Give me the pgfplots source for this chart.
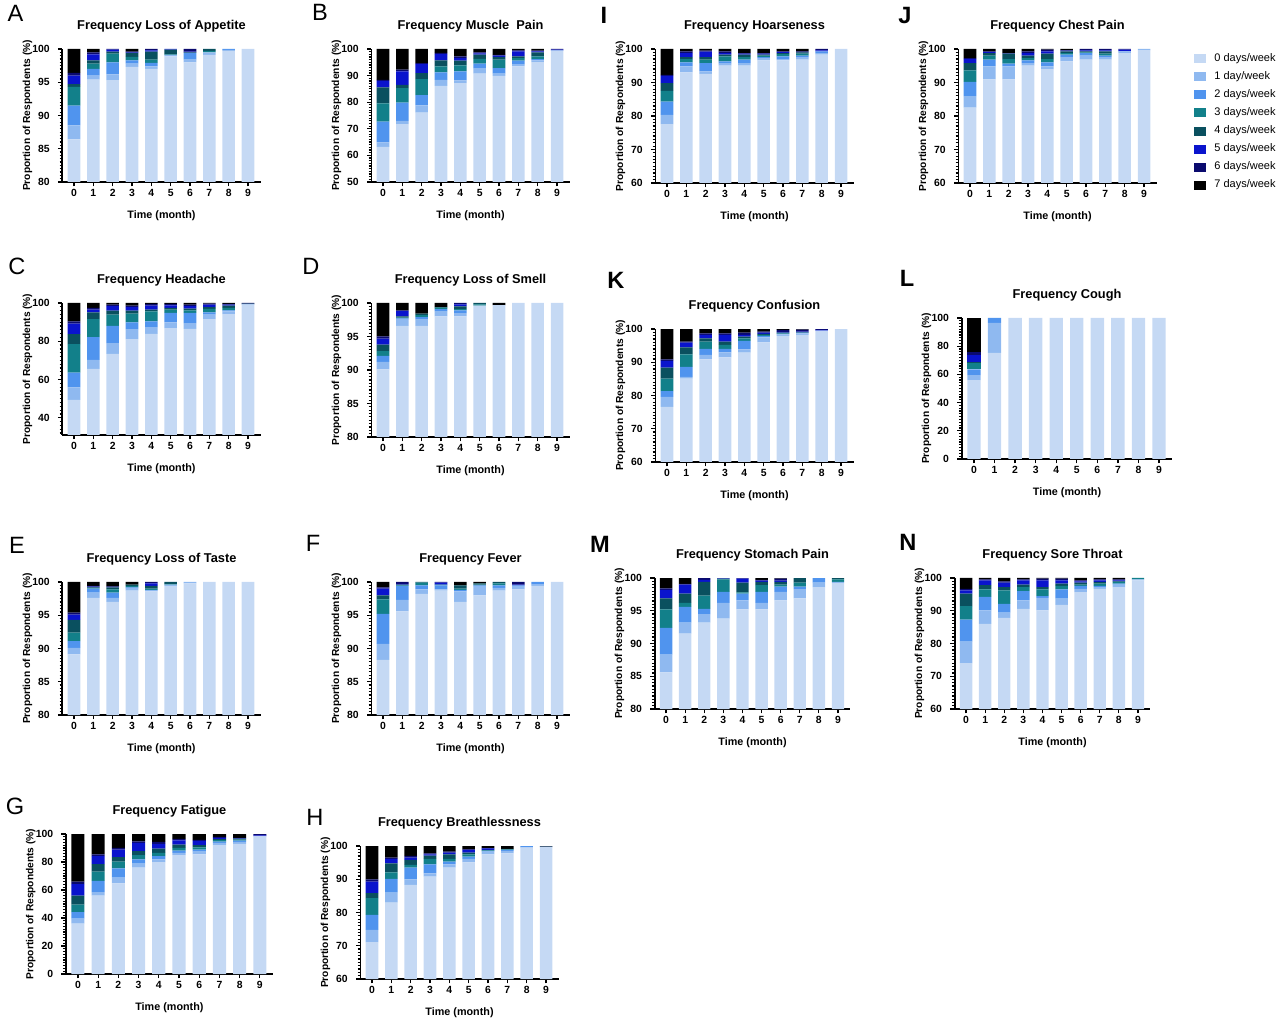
\documentclass[border=0pt]{standalone}
\usepackage{fontspec}
\setmainfont{Liberation Sans}
\usepackage{pgfplots}
\pgfplotsset{compat=1.18}
\usepackage{pgfplotstable}
\usetikzlibrary{calc}

\definecolor{c0}{HTML}{C5D9F4}
\definecolor{c1}{HTML}{8FB9F0}
\definecolor{c2}{HTML}{5094EE}
\definecolor{c3}{HTML}{12808A}
\definecolor{c4}{HTML}{0A505F}
\definecolor{c5}{HTML}{0A14CD}
\definecolor{c6}{HTML}{0A0A6E}
\definecolor{c7}{HTML}{000000}

\pgfplotstableread{
x d0 d1 d2 d3 d4 d5 d6 d7
0 86.4 2.1 3.0 2.8 0.4 1.3 0.4 3.6
1 95.4 0.6 1.0 0.8 0.5 0.9 0.3 0.5
2 95.3 0.9 1.8 1.3 0.3 0.3 0.1 0.0
3 97.3 0.5 0.5 0.5 0.6 0.1 0.1 0.4
4 97.0 0.4 0.5 0.5 1.2 0.2 0.2 0.0
5 98.9 0.2 0.0 0.1 0.7 0.1 0.0 0.0
6 98.0 0.4 1.0 0.0 0.1 0.1 0.4 0.0
7 99.1 0.4 0.0 0.2 0.3 0.0 0.0 0.0
8 99.7 0.15 0.15 0 0 0 0 0
9 100 0 0 0 0 0 0 0
}\tabA
\pgfplotstableread{
x d0 d1 d2 d3 d4 d5 d6 d7
0 63.2 1.7 7.8 6.9 6.0 2.4 0.4 11.6
1 71.8 1.2 6.8 5.5 1.2 5.1 0.6 7.8
2 76.1 2.7 3.9 6.0 2.2 3.4 0.4 5.3
3 86.1 2.3 2.8 2.3 2.2 2.4 0.4 1.5
4 87.2 1.0 3.4 2.2 1.8 1.0 0.6 2.8
5 90.7 2.1 1.7 1.8 1.6 0.5 0.3 1.3
6 89.9 0.8 2.1 3.2 1.0 0.5 0.3 2.2
7 93.5 0.6 1.5 1.0 0.6 1.9 0.4 0.5
8 95.1 0.6 0.5 1.0 1.5 0.4 0.3 0.6
9 99.3 0.2 0 0 0 0.3 0.2 0
}\tabB
\pgfplotstableread{
x d0 d1 d2 d3 d4 d5 d6 d7
0 77.6 2.7 4.0 3.2 2.3 2.2 0.3 7.7
1 93.0 1.8 1.2 1.0 0.6 1.2 0.5 0.7
2 92.6 0.7 2.5 1.0 0.8 1.6 0.3 0.5
3 95.0 0.6 0.7 1.5 0.5 0.5 0.5 0.7
4 95.0 0.8 1.0 0.8 0.7 0.3 0.2 1.2
5 96.6 0.7 0.3 0.4 0.3 0.3 0.2 1.2
6 96.6 0.4 0.8 0.7 0.3 0.3 0.2 0.7
7 96.8 0.8 0.4 0.6 0.4 0.1 0.2 0.7
8 98.3 0.5 0.5 0 0 0.3 0.4 0
9 100 0 0 0 0 0 0 0
}\tabI
\pgfplotstableread{
x d0 d1 d2 d3 d4 d5 d6 d7
0 82.5 3.4 4.3 3.4 2.2 1.2 0.3 2.7
1 90.9 3.9 2.0 1.2 0.8 0.3 0.2 0.7
2 90.9 3.9 0.8 1.4 1.6 0.1 0.1 1.2
3 95.0 0.8 0.8 0.7 0.7 0.8 0.5 0.7
4 94.0 0.8 1.2 1.0 1.6 0.7 0.5 0.2
5 96.3 1.3 0.7 0.5 0.5 0.2 0.1 0.4
6 96.8 1.2 0.8 0.2 0.3 0.3 0.4 0
7 96.8 0.8 0.4 0.6 0.7 0.3 0.4 0
8 98.8 0.5 0.1 0 0 0.4 0.2 0
9 99.7 0.3 0 0 0 0 0 0
}\tabJ
\pgfplotstableread{
x d0 d1 d2 d3 d4 d5 d6 d7
0 49.3 6.6 7.7 14.9 5.2 5.5 1.2 9.6
1 65.5 4.8 11.9 9.4 3.5 1.4 0.9 2.6
2 73.4 5.6 9.1 5.8 2.1 2.3 0.8 0.9
3 81.1 5.3 3.5 4.5 1.6 1.9 0.7 1.4
4 83.9 3.5 3.0 5.2 0.9 2.1 0.9 0.5
5 86.9 3.0 4.9 1.7 0.9 1.4 0.7 0.5
6 86.5 3.0 5.3 1.4 0.8 1.3 0.8 0.9
7 91.6 2.3 1.2 1.8 1.0 1.2 0.6 0.3
8 94.2 1.4 0.6 1.2 1.2 0.5 0.5 0.4
9 99.2 0.2 0 0 0.3 0 0.3 0
}\tabC
\pgfplotstableread{
x d0 d1 d2 d3 d4 d5 d6 d7
0 90.1 1.1 0.9 0.7 1.0 0.9 0.3 5.0
1 96.6 0.9 0.2 0.1 0.2 0.8 0.1 1.1
2 96.6 0.9 0.4 0.3 0.2 0 0 1.6
3 98.0 0.8 0.3 0.2 0.1 0 0 0.6
4 98.0 0.5 0.4 0.2 0.4 0.3 0.2 0
5 99.6 0 0 0.2 0.2 0 0 0
6 99.7 0 0 0 0 0 0 0.3
7 100 0 0 0 0 0 0 0
8 100 0 0 0 0 0 0 0
9 100 0 0 0 0 0 0 0
}\tabD
\pgfplotstableread{
x d0 d1 d2 d3 d4 d5 d6 d7
0 76.6 3.0 1.7 3.8 3.3 2.0 0.5 9.1
1 85.1 0.5 3.0 3.8 2.1 1.4 0.3 3.8
2 90.9 1.3 1.8 2.2 1.0 1.0 0.5 1.3
3 91.5 1.5 1.0 1.2 1.0 2.0 0.5 1.3
4 92.9 1.0 2.5 0.8 0.5 0.5 0.7 1.1
5 96.0 1.5 0.4 0.3 0.3 0.4 0.3 0.8
6 97.9 0.5 0.1 0.2 0.2 0.2 0.6 0.3
7 98.2 0.5 0.1 0.1 0.1 0.2 0.6 0.2
8 99.4 0.1 0 0 0 0.2 0.3 0
9 100 0 0 0 0 0 0 0
}\tabK
\pgfplotstableread{
x d0 d1 d2 d3 d4 d5 d6 d7
0 56.0 3.5 4.0 4.3 1.1 4.7 2.4 24.0
1 75.3 21.2 3.5 0 0 0 0 0
2 100 0 0 0 0 0 0 0
3 100 0 0 0 0 0 0 0
4 100 0 0 0 0 0 0 0
5 100 0 0 0 0 0 0 0
6 100 0 0 0 0 0 0 0
7 100 0 0 0 0 0 0 0
8 100 0 0 0 0 0 0 0
9 100 0 0 0 0 0 0 0
}\tabL
\pgfplotstableread{
x d0 d1 d2 d3 d4 d5 d6 d7
0 89.1 1.0 1.0 1.3 1.9 0.8 0.3 4.6
1 97.6 0.8 0.6 0.1 0.1 0.1 0.1 0.6
2 97.0 0.6 0.8 0.5 0.3 0.1 0 0.7
3 98.7 0.3 0.2 0.2 0.2 0 0 0.4
4 98.6 0.1 0.1 0.2 0.4 0.4 0.2 0
5 99.4 0.2 0 0.1 0.3 0 0 0
6 99.8 0.2 0 0 0 0 0 0
7 100 0 0 0 0 0 0 0
8 100 0 0 0 0 0 0 0
9 100 0 0 0 0 0 0 0
}\tabE
\pgfplotstableread{
x d0 d1 d2 d3 d4 d5 d6 d7
0 88.3 2.4 4.5 2.2 0.6 1.0 0.2 0.8
1 95.6 1.7 2.1 0.1 0.1 0.1 0.3 0
2 98.2 0.7 0.6 0.4 0.1 0 0 0
3 98.7 0.2 0.6 0.1 0 0.3 0.1 0
4 97.0 1.6 0.2 0.2 0.5 0 0 0.5
5 98.0 1.3 0.2 0.1 0.2 0 0 0.2
6 98.7 0.4 0.4 0.3 0.2 0 0 0
7 98.9 0.4 0.2 0 0 0.1 0.4 0
8 99.4 0.2 0.4 0 0 0 0 0
9 100 0 0 0 0 0 0 0
}\tabF
\pgfplotstableread{
x d0 d1 d2 d3 d4 d5 d6 d7
0 85.6 2.7 4.1 2.8 1.7 1.3 0.2 1.6
1 91.5 1.7 2.4 0.6 1.4 1.4 0.1 0.9
2 93.2 1.3 0.8 2.0 2.1 0.3 0.3 0
3 93.8 2.4 1.7 1.9 0.1 0.1 0 0
4 95.2 1.4 1.0 0.2 1.5 0.6 0.1 0
5 95.2 1.0 1.7 1.0 0.5 0.2 0.1 0.3
6 96.6 1.3 0.8 0.3 0.4 0.2 0.3 0.1
7 96.9 1.4 0.4 0.6 0.7 0 0 0
8 98.6 0.7 0.7 0 0 0 0 0
9 99.2 0.2 0 0.4 0.2 0 0 0
}\tabM
\pgfplotstableread{
x d0 d1 d2 d3 d4 d5 d6 d7
0 74.0 6.6 6.7 4.1 3.8 1.0 0.5 3.3
1 86.0 4.1 4.1 2.3 1.3 1.5 0.3 0.4
2 87.8 1.6 2.7 4.1 1.0 1.4 0.4 1.0
3 90.6 2.6 2.8 1.2 0.8 1.3 0.3 0.4
4 90.1 3.8 0.6 2.0 0.7 2.1 0.5 0.2
5 91.8 1.9 2.8 1.1 0.7 1.0 0.5 0.2
6 95.7 1.0 0.9 0.4 0.6 0.4 0.3 0.7
7 96.7 0.5 0.4 0.7 0.5 0.5 0.3 0.4
8 97.2 0.8 0.3 0.5 0.2 0.3 0.3 0.4
9 99.3 0.3 0 0.4 0 0 0 0
}\tabN
\pgfplotstableread{
x d0 d1 d2 d3 d4 d5 d6 d7
0 36.0 3.5 4.7 5.4 6.4 8.2 1.7 34.1
1 56.0 2.4 8.2 6.6 5.2 5.8 1.2 14.6
2 64.7 4.2 6.6 4.7 3.3 5.4 1.2 9.9
3 76.0 2.8 3.1 3.0 2.9 5.8 1.2 5.2
4 80.0 1.9 2.3 2.4 3.0 3.3 1.5 5.6
5 84.9 1.7 1.6 1.9 2.4 3.0 1.0 3.5
6 85.4 2.0 1.5 1.6 1.6 3.0 0.7 4.2
7 92.0 1.6 1.0 1.0 0.8 0.8 0.8 2.0
8 92.9 1.5 0.9 0.7 0.7 0.3 0.2 2.8
9 98.3 0.2 0 0 0 0.5 1.0 0
}\tabG
\pgfplotstableread{
x d0 d1 d2 d3 d4 d5 d6 d7
0 71.1 3.7 4.5 5.0 1.5 3.5 0.7 10.0
1 83.0 3.0 4.1 2.0 2.7 1.3 0.4 3.5
2 88.3 1.7 3.5 0.8 1.5 0.7 0.5 3.0
3 90.8 1.0 2.7 1.6 1.0 0.4 0.3 2.2
4 93.5 1.0 0.8 0.8 1.4 0.5 0.3 1.7
5 95.1 1.0 0.7 0.7 0.5 0.8 0.2 1.0
6 97.5 0.8 0.2 0.2 0.1 0.5 0.1 0.6
7 97.8 0.7 0.3 0.2 0.1 0 0 0.9
8 99.5 0.1 0.4 0 0 0 0 0
9 99.7 0 0 0 0.1 0 0.1 0.1
}\tabH

\newcommand{\stackbars}[1]{%
\addplot[fill=c0,draw=none] table[x=x,y=d0]{#1};
\addplot[fill=c1,draw=none] table[x=x,y=d1]{#1};
\addplot[fill=c2,draw=none] table[x=x,y=d2]{#1};
\addplot[fill=c3,draw=none] table[x=x,y=d3]{#1};
\addplot[fill=c4,draw=none] table[x=x,y=d4]{#1};
\addplot[fill=c5,draw=none] table[x=x,y=d5]{#1};
\addplot[fill=c6,draw=none] table[x=x,y=d6]{#1};
\addplot[fill=c7,draw=none] table[x=x,y=d7]{#1};
}

\pgfplotsset{
  sqlegend/.style={legend image code/.code={\fill[##1] (0pt,-2.2pt) rectangle (6pt,2.3pt);}},
  panel/.style={
    scale only axis,
    anchor=south west,
    ybar stacked,
    bar width=0.65,
    xmin=-0.6, xmax=9.65,
    ymax=100,
    enlargelimits=false,
    axis x line*=bottom, axis y line*=left,
    axis line style={line width=0.9pt},
    tick align=outside,
    major tick length=2.2pt, minor tick length=1.4pt,
    every tick/.style={line width=0.6pt, black},
    xtick={0,...,9},
    tick label style={font=\bfseries\fontsize{5.2}{6}\selectfont},
    xticklabel style={yshift=2pt},
    yticklabel style={xshift=-0.6pt},
    /pgf/number format/assume math mode=true,
    title style={font=\bfseries\fontsize{6.4}{7}\selectfont, at={($(axis description cs:0.5,1)+(0,5.5pt)$)}, anchor=center},
    xlabel={Time (month)},
    ylabel={Proportion of Respondents (\%)},
    xlabel style={font=\bfseries\fontsize{5.4}{6}\selectfont, at={($(axis description cs:0.5,0)+(0,-17pt)$)}, anchor=center},
    ylabel style={font=\bfseries\fontsize{5.1}{6}\selectfont, at={($(axis description cs:0,0.5)+(-17.5pt,0)$)}, anchor=center},
  },
  yA/.style={ymin=80, ytick={80,85,...,100}, minor ytick={80,80.5,...,100}},
  yB/.style={ymin=50, ytick={50,60,...,100}, minor ytick={50,51,...,100}},
  yC/.style={ymin=31, ytick={40,60,80,100}, minor ytick={32,34,...,100}},
  yI/.style={ymin=60, ytick={60,70,...,100}, minor ytick={60,61,...,100}},
  yL/.style={ymin=0, ytick={0,20,...,100}, minor ytick={0,2,...,100}},
}

\begin{document}
\begin{tikzpicture}
\path[use as bounding box] (0,0) rectangle (640pt,512pt);

% Row 1
\begin{axis}[panel, yA, at={(31.2pt,421pt)}, width=99.1pt, height=66.5pt, title={Frequency Loss of Appetite}]
\stackbars{\tabA}
\end{axis}
\begin{axis}[panel, yB, at={(185.7pt,421pt)}, width=99.1pt, height=66.5pt, title={Frequency Muscle\ \ Pain}]
\stackbars{\tabB}
\end{axis}
\begin{axis}[panel, yI, at={(327.7pt,420.5pt)}, width=99.1pt, height=67pt, title={Frequency Hoarseness}]
\stackbars{\tabI}
\end{axis}
\begin{axis}[panel, yI, at={(479.2pt,420.5pt)}, width=99.1pt, height=67pt, title={Frequency Chest Pain},
  every axis plot post/.append style={sqlegend},
  legend entries={0 days/week,1 day/week,2 days/week,3 days/week,4 days/week,5 days/week,6 days/week,7 days/week},
  legend cell align=left,
  legend style={at={($(axis description cs:1,1)+(18.5pt,0pt)$)}, anchor=north west, draw=none, fill=none,
    font=\fontsize{5.5}{6}\selectfont, row sep=-0.45pt, inner sep=0pt,
    /tikz/every odd column/.append style={column sep=2.2pt}}]
\stackbars{\tabJ}
\end{axis}

% Row 2
\begin{axis}[panel, yC, at={(31.2pt,294.5pt)}, width=99.1pt, height=66pt, title={Frequency Headache}]
\stackbars{\tabC}
\end{axis}
\begin{axis}[panel, yA, at={(185.7pt,293.5pt)}, width=99.1pt, height=67pt, title={Frequency Loss of Smell}]
\stackbars{\tabD}
\end{axis}
\begin{axis}[panel, yI, at={(327.7pt,281pt)}, width=99.1pt, height=66.5pt, title={Frequency Confusion}]
\stackbars{\tabK}
\end{axis}
\begin{axis}[panel, yL, at={(480.8pt,282.5pt)}, width=105.4pt, height=70.5pt, title={Frequency Cough}]
\stackbars{\tabL}
\end{axis}

% Row 3
\begin{axis}[panel, yA, at={(31.2pt,154.5pt)}, width=99.1pt, height=66.5pt, title={Frequency Loss of Taste}]
\stackbars{\tabE}
\end{axis}
\begin{axis}[panel, yA, at={(185.7pt,154.5pt)}, width=99.1pt, height=66.5pt, title={Frequency Fever}]
\stackbars{\tabF}
\end{axis}
\begin{axis}[panel, yA, at={(327.3pt,157.5pt)}, width=97.9pt, height=65.5pt, title={Frequency Stomach Pain}]
\stackbars{\tabM}
\end{axis}
\begin{axis}[panel, yI, at={(477.3pt,157.5pt)}, width=97.9pt, height=65.5pt, title={Frequency Sore Throat}]
\stackbars{\tabN}
\end{axis}

% Row 4
\begin{axis}[panel, yL, at={(32.9pt,25pt)}, width=103.6pt, height=70pt, title={Frequency Fatigue}]
\stackbars{\tabG}
\end{axis}
\begin{axis}[panel, yI, at={(180.2pt,22.5pt)}, width=99.1pt, height=66.5pt, title={Frequency Breathlessness}]
\stackbars{\tabH}
\end{axis}

% Panel letters
\begin{scope}[every node/.style={inner sep=0pt, anchor=center, font=\fontsize{11.8}{12}\selectfont}]
\node at (7.75pt,505.25pt) {A};
\node at (160pt,506pt) {B};
\node at (8.5pt,379pt) {C};
\node at (155.5pt,379pt) {D};
\node at (8.5pt,239.5pt) {E};
\node at (156.5pt,240.5pt) {F};
\node at (7.5pt,109pt) {G};
\node at (157.5pt,103.5pt) {H};
\node[font=\bfseries\fontsize{11.8}{12}\selectfont] at (302pt,504.5pt) {I};
\node[font=\bfseries\fontsize{11.8}{12}\selectfont] at (452.5pt,504pt) {J};
\node[font=\bfseries\fontsize{11.8}{12}\selectfont] at (308pt,372pt) {K};
\node[font=\bfseries\fontsize{11.8}{12}\selectfont] at (453.5pt,373pt) {L};
\node[font=\bfseries\fontsize{11.8}{12}\selectfont] at (300pt,240pt) {M};
\node[font=\bfseries\fontsize{11.8}{12}\selectfont] at (454pt,241pt) {N};
\end{scope}
\end{tikzpicture}
\end{document}
